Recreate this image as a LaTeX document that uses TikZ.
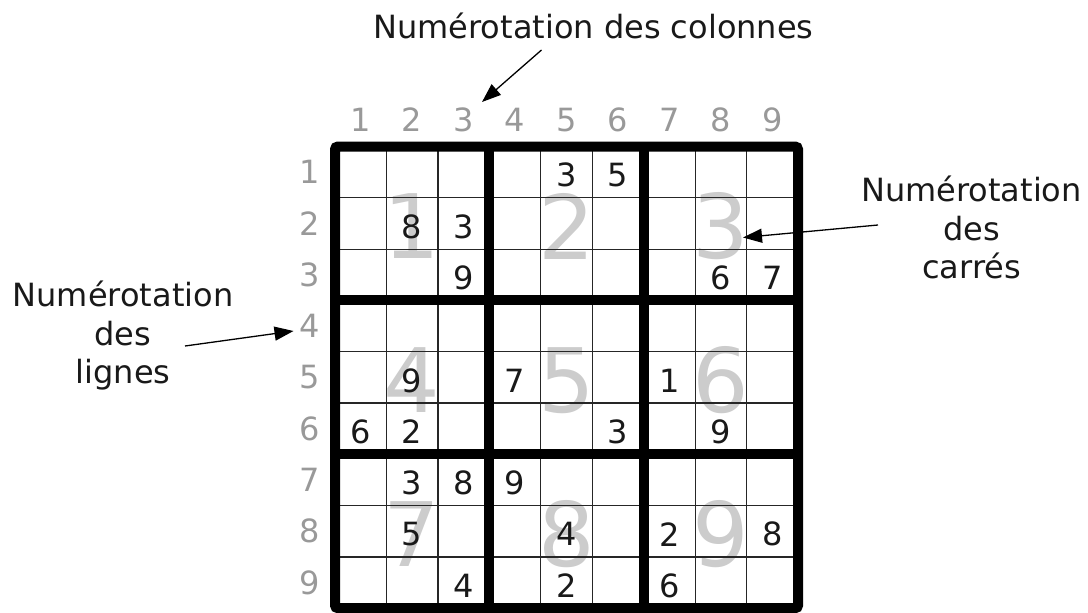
\documentclass[tikz,border=0pt]{standalone}
\usepackage{fontspec}
\setmainfont{DejaVu Sans}
\usetikzlibrary{arrows.meta}
\definecolor{hdr}{gray}{0.6}
\definecolor{big}{gray}{0.8}
\definecolor{ink}{gray}{0.1}
\begin{document}
\begin{tikzpicture}[x=1pt,y=-1pt,
  txt/.style={font=\fontsize{32}{38.5}\selectfont, text=ink, inner sep=0pt, align=center},
  hnum/.style={font=\fontsize{32}{38.5}\selectfont, text=hdr, inner sep=0pt},
  bnum/.style={font=\fontsize{89}{89}\selectfont, text=big, inner sep=0pt},
  dnum/.style={font=\fontsize{32}{38.5}\selectfont, text=ink, inner sep=0pt},
  thinline/.style={line width=1.2pt, draw=black!85},
  thickline/.style={line width=10pt, draw=black},
  arr/.style={line width=1.3pt, draw=black, -{Triangle[length=19pt,width=14pt]}}]
\useasboundingbox (0,0) rectangle (1088,613);
\def\cw{51.45}\def\ch{51.3}\def\gx{335}\def\gy{146.5}
% big block numbers
\foreach \b in {1,...,9}{
  \pgfmathtruncatemacro{\bc}{mod(\b-1,3)}
  \pgfmathtruncatemacro{\br}{div(\b-1,3)}
  \node[bnum] (b\b) at ({\gx+(\bc*3+1.5)*\cw},{\gy+(\br*3+1.5)*\ch+3}) {\b};
}
% thin lines
\foreach \i in {1,2,4,5,7,8}{
  \draw[thinline] ({\gx+\i*\cw},\gy) -- ({\gx+\i*\cw},{\gy+9*\ch});
  \draw[thinline] (\gx,{\gy+\i*\ch}) -- ({\gx+9*\cw},{\gy+\i*\ch});
}
% thick lines
\foreach \i in {3,6}{
  \draw[thickline] ({\gx+\i*\cw},\gy) -- ({\gx+\i*\cw},{\gy+9*\ch});
  \draw[thickline] (\gx,{\gy+\i*\ch}) -- ({\gx+9*\cw},{\gy+\i*\ch});
}
\draw[thickline, rounded corners=3pt] (\gx,\gy) rectangle ({\gx+9*\cw},{\gy+9*\ch});
% headers
\foreach \i in {1,...,9}{
  \node[hnum] (c\i) at ({\gx+(\i-0.5)*\cw},120) {\i};
  \node[hnum] (r\i) at (310,{\gy+(\i-0.5)*\ch}) {\i};
}
% given digits
\foreach \r/\c/\d in {1/5/3,1/6/5,2/2/8,2/3/3,3/3/9,3/8/6,3/9/7,
  5/2/9,5/4/7,5/7/1,6/1/6,6/2/2,6/6/3,6/8/9,7/2/3,7/3/8,7/4/9,
  8/2/5,8/5/4,8/7/2,8/9/8,9/3/4,9/5/2,9/7/6}{
  \node[dnum] (d\r-\c) at ({\gx+(\c-0.5)*\cw},{\gy+(\r-0.5)*\ch+3}) {\d};
}
% annotations
\node[txt, anchor=base] (tcol) at (593.5,38) {Numérotation des colonnes};
\node[txt] (tcar) at (971.5,227.5) {Numérotation\\des\\carrés};
\node[txt] (tlig) at (123,336) {Numérotation\\des\\lignes};
\coordinate (colA) at (541.5,50);
\coordinate (colB) at (482,102);
\coordinate (carA) at (878,225);
\coordinate (carB) at (743,237.5);
\coordinate (ligA) at (185,346);
\coordinate (ligB) at (293.5,331);
\draw[arr] (colA) -- (colB);
\draw[arr] (carA) -- (carB);
\draw[arr] (ligA) -- (ligB);
\end{tikzpicture}
\end{document}
